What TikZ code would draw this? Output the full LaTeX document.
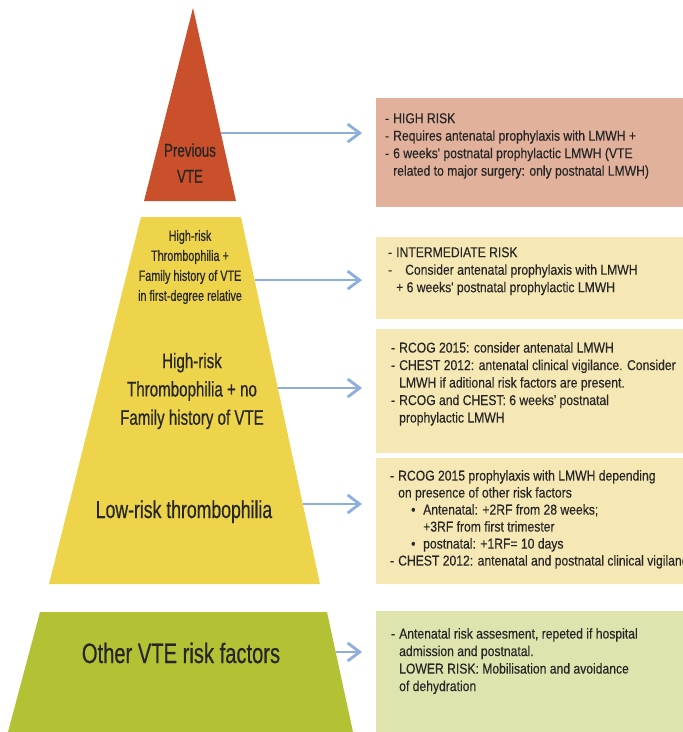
\documentclass[tikz,border=0pt]{standalone}
\usepackage{fontspec}
\newfontfamily\pyrfont{Liberation Sans}[FakeStretch=0.72, FakeBold=0.5]
\newfontfamily\boxfont{Liberation Sans}[FakeStretch=0.85, FakeBold=0.3]
\usetikzlibrary{arrows.meta, positioning, calc}
\definecolor{colHigh}{HTML}{C9502A}
\definecolor{colMid}{HTML}{EDD44B}
\definecolor{colLow}{HTML}{B3C234}
\definecolor{colHighBox}{HTML}{E1B19B}
\definecolor{colMidBox}{HTML}{F6E8B4}
\definecolor{colLowBox}{HTML}{DFE3AD}
\definecolor{colArrow}{HTML}{8DAEDC}
\definecolor{colText}{HTML}{262626}
\newcommand{\dashmark}{\makebox[8pt][l]{-}}

\begin{document}
\begin{tikzpicture}[
  x=1pt, y=-1pt,
  every node/.style={align=center, text=colText},
  pyrtext/.style={inner sep=0pt},
  infobox/.style={anchor=north west, fill=#1, minimum width=310pt, inner sep=0pt},
  boxtext/.style={align=left, inner sep=0pt,
    font=\boxfont\fontsize{14.3}{17.5}\selectfont},
  arrow/.style={-{Straight Barb[length=12pt, width=18pt, line width=2.8pt]},
    line width=1.3pt, color=colArrow, shorten >=14pt},
]
\useasboundingbox (0,0) rectangle (683,732);
\fill[white] (0,0) rectangle (683,732);

%% ============================================================
%% PYRAMID - three levels
%% ============================================================
\coordinate (apex)  at (193,8);
\coordinate (triBR) at (236,201);
\coordinate (triBL) at (144,201);
\coordinate (midTL) at (141,217);
\coordinate (midTR) at (241,217);
\coordinate (midBR) at (320,584);
\coordinate (midBL) at (49,584);
\coordinate (lowTL) at (40,612);
\coordinate (lowTR) at (327,612);
\coordinate (lowBR) at (353,732);
\coordinate (lowBL) at (8,732);

\fill[colHigh] (apex) -- (triBR) -- (triBL) -- cycle;
\fill[colMid] (midTL) -- (midTR) -- (midBR) -- (midBL) -- cycle;
\fill[colLow] (lowTL) -- (lowTR) -- (lowBR) -- (lowBL) -- cycle;

\node[pyrtext, font=\pyrfont\fontsize{18.5}{26}\selectfont]
  (prevVTE) at (190,163) {Previous\\VTE};
\node[pyrtext, font=\pyrfont\fontsize{15}{20}\selectfont]
  (famHist) at (190,267)
  {High-risk\\Thrombophilia +\\Family history of VTE\\in first-degree relative};
\node[pyrtext, font=\pyrfont\fontsize{21}{28.3}\selectfont]
  (noFamHist) at (192,391)
  {High-risk\\Thrombophilia + no\\Family history of VTE};
\node[pyrtext, font=\pyrfont\fontsize{24.5}{28}\selectfont, anchor=base]
  (lowThromb) at (184,518) {Low-risk thrombophilia};
\node[pyrtext, font=\pyrfont\fontsize{28}{32}\selectfont, anchor=base]
  (otherRF) at (181,663) {Other VTE risk factors};

%% ============================================================
%% RIGHT COLUMN - recommendation boxes
%% ============================================================
\node[infobox=colHighBox, minimum height=109pt] (boxHigh)  at (376,98)  {};
\node[infobox=colMidBox,  minimum height=82pt]  (boxInter) at (376,237) {};
\node[infobox=colMidBox,  minimum height=124pt] (boxRcog)  at (376,329) {};
\node[infobox=colMidBox,  minimum height=126pt] (boxLowTh) at (376,458) {};
\node[infobox=colLowBox,  minimum height=125pt] (boxOther) at (376,611) {};

\node[boxtext, below right=15pt and 9pt of boxHigh.north west] (txtHigh)
  {\dashmark HIGH RISK\\
   \dashmark Requires antenatal prophylaxis with LMWH +\\
   \dashmark 6 weeks' postnatal prophylactic LMWH (VTE\\
   \hspace*{8pt}related to major surgery: only postnatal LMWH)};

\node[boxtext, below right=10pt and 12pt of boxInter.north west] (txtInter)
  {\dashmark INTERMEDIATE RISK\\
   \makebox[17pt][l]{-}Consider antenatal prophylaxis with LMWH\\
   \hspace*{8pt}+ 6 weeks' postnatal prophylactic LMWH};

\node[boxtext, below right=13pt and 15pt of boxRcog.north west] (txtRcog)
  {\dashmark RCOG 2015: consider antenatal LMWH\\
   \dashmark CHEST 2012: antenatal clinical vigilance. Consider\\
   \hspace*{8pt}LMWH if aditional risk factors are present.\\
   \dashmark RCOG and CHEST: 6 weeks' postnatal\\
   \hspace*{8pt}prophylactic LMWH};

\node[boxtext, below right=12pt and 14pt of boxLowTh.north west,
      font=\boxfont\fontsize{14.3}{17}\selectfont] (txtLowTh)
  {\dashmark RCOG 2015 prophylaxis with LMWH depending\\
   \hspace*{8pt}on presence of other risk factors\\
   \makebox[33pt][l]{\hspace*{21pt}\textbullet}Antenatal: +2RF from 28 weeks;\\
   \hspace*{33pt}+3RF from first trimester\\
   \makebox[33pt][l]{\hspace*{21pt}\textbullet}postnatal: +1RF= 10 days\\
   \dashmark CHEST 2012: antenatal and postnatal clinical vigilance};

\node[boxtext, below right=17pt and 15pt of boxOther.north west] (txtOther)
  {\dashmark Antenatal risk assesment, repeted if hospital\\
   \hspace*{8pt}admission and postnatal.\\
   \hspace*{8pt}LOWER RISK: Mobilisation and avoidance\\
   \hspace*{8pt}of dehydration};

%% ============================================================
%% ARROWS - pyramid edge to box
%% ============================================================
\coordinate (e1) at ($(apex)!0.648!(triBR)$);
\coordinate (e2) at ($(midTR)!0.172!(midBR)$);
\coordinate (e3) at ($(midTR)!0.466!(midBR)$);
\coordinate (e4) at ($(midTR)!0.782!(midBR)$);
\coordinate (e5) at ($(lowTR)!0.333!(lowBR)$);

\draw[arrow] (e1) -- (e1 -| boxHigh.west);
\draw[arrow] (e2) -- (e2 -| boxInter.west);
\draw[arrow] (e3) -- (e3 -| boxRcog.west);
\draw[arrow] (e4) -- (e4 -| boxLowTh.west);
\draw[arrow] (e5) -- (e5 -| boxOther.west);

\end{tikzpicture}
\end{document}
